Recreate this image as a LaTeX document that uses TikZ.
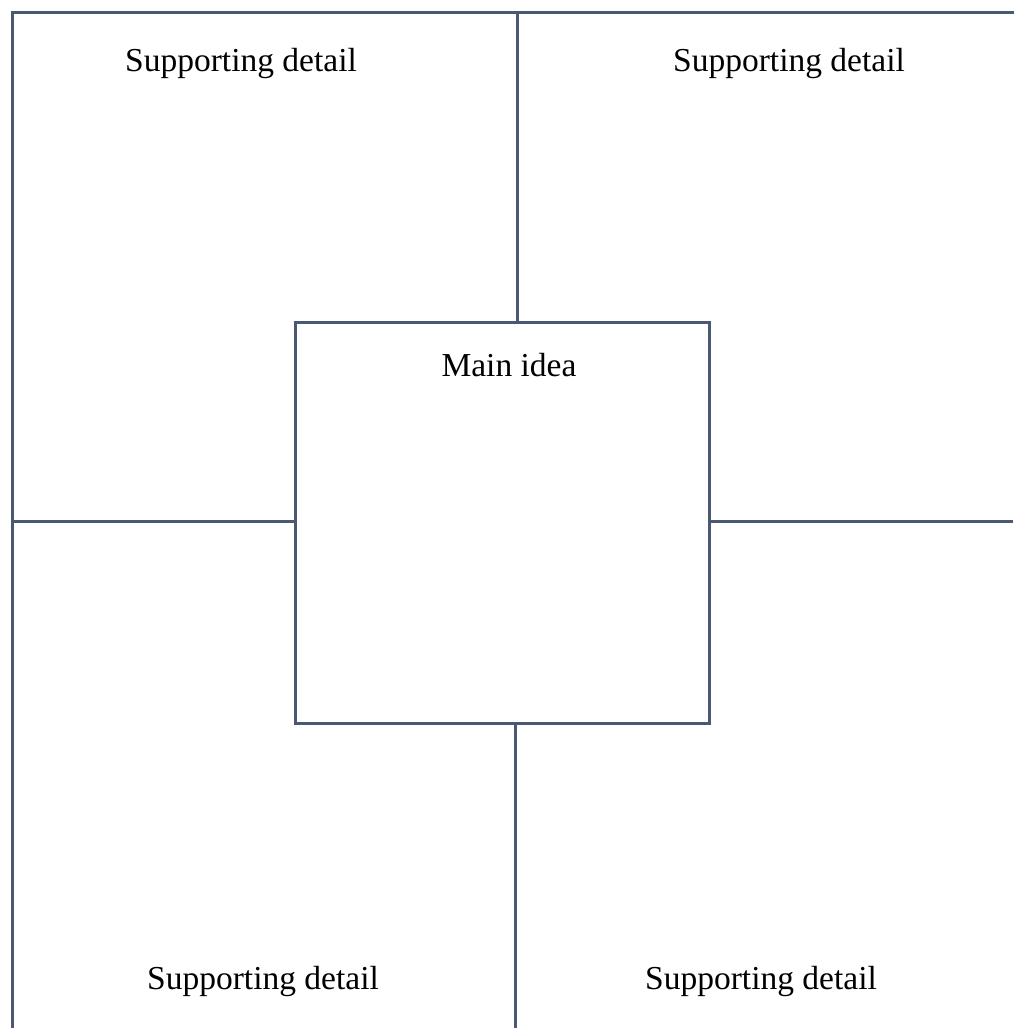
\documentclass[tikz,border=0pt]{standalone}
\usepackage{fontspec}
\setmainfont{Liberation Serif}
\definecolor{linecol}{HTML}{4A5874}
\begin{document}
\begin{tikzpicture}[x=1pt,y=-1pt,
  frame/.style={draw=linecol,line width=3pt},
  lbl/.style={font=\fontsize{33.5}{38}\selectfont,inner sep=0pt,anchor=base}]
\useasboundingbox (0,0) rectangle (1013,1028);
\coordinate (tl) at (12,12);
\coordinate (tr) at (1013,12);
\coordinate (bl) at (12,1028);
\coordinate (topmid) at (517,12);
\coordinate (botmid) at (515,1028);
\coordinate (leftmid) at (12,521);
\coordinate (rightmid) at (1013,521);
\node[frame,minimum width=414pt,minimum height=401pt,inner sep=0pt] (main) at (502,522.5) {};
\draw[frame,line cap=rect] (bl) -- (tl) -- (tr);
\draw[frame] (topmid) -- (topmid |- main.north);
\draw[frame] (botmid) -- (botmid |- main.south);
\draw[frame] (leftmid) -- (leftmid -| main.west);
\draw[frame] (rightmid) -- (rightmid -| main.east);
\node[lbl] (s1) at (241,71) {Supporting detail};
\node[lbl] (s2) at (789,71) {Supporting detail};
\node[lbl] (mi) at (509,376) {Main idea};
\node[lbl] (s3) at (263,989) {Supporting detail};
\node[lbl] (s4) at (761,989) {Supporting detail};
\end{tikzpicture}
\end{document}
